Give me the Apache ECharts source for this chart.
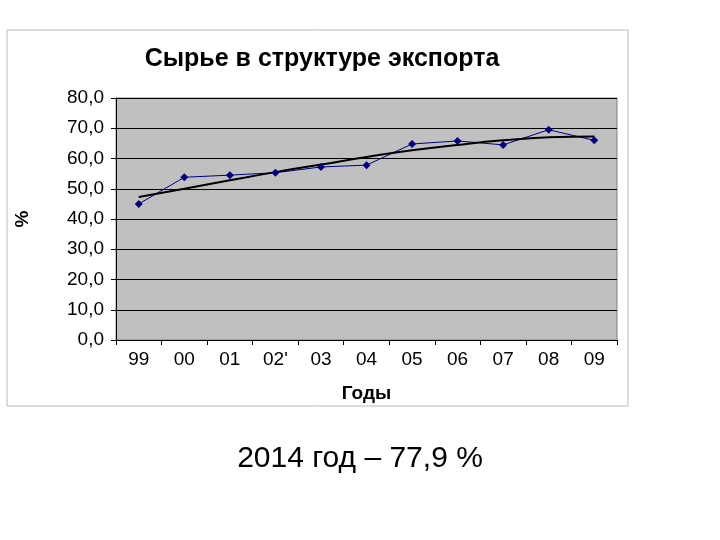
<!DOCTYPE html>
<html><head><meta charset="utf-8">
<script src="https://cdn.jsdelivr.net/npm/echarts@6/dist/echarts.min.js"></script>
<style>body{margin:0;background:#fff}#c{width:720px;height:540px}</style>
</head><body><div id="c"></div>
<script>
const years = ['99', '00', '01', "02'", '03', '04', '05', '06', '07', '08', '09']
const share = [45.0, 53.8, 54.5, 55.3, 57.2, 57.8, 64.8, 65.8, 64.5, 69.5, 66.0]
const trend = [47.3, 50.0, 52.8, 55.5, 58.0, 60.5, 62.7, 64.5, 66.0, 67.0, 67.3]

const chart = echarts.init(document.getElementById('c'))
chart.setOption({
  animation: false,
  graphic: [
    { type: 'rect', shape: { x: 7, y: 30, width: 621, height: 376 },
      style: { fill: '#fff', stroke: '#bbb', lineWidth: 1 }, z: -10 },
    { type: 'text', left: 'center', top: 444,
      style: { text: '2014 год – 77,9 %', font: '30px "Liberation Sans", Arial', fill: '#000' } }
  ],
  title: {
    text: 'Сырье в структуре экспорта', left: 317, top: 42, textAlign: 'center',
    textStyle: { fontFamily: 'Liberation Sans', fontSize: 25, fontWeight: 'bold', color: '#000' }
  },
  grid: { left: 116, top: 98, width: 501, height: 242, backgroundColor: '#C0C0C0', show: true, borderColor: '#808080', borderWidth: 1 },
  xAxis: {
    type: 'category', data: years, boundaryGap: true,
    name: 'Годы', nameLocation: 'middle', nameGap: 44,
    nameTextStyle: { fontFamily: 'Liberation Sans', fontSize: 19, fontWeight: 'bold', color: '#000' },
    axisLine: { lineStyle: { color: '#000' } },
    axisTick: { show: true, inside: false, length: 5, lineStyle: { color: '#000' } },
    axisLabel: { fontFamily: 'Liberation Sans', fontSize: 19, color: '#000', margin: 10 }
  },
  yAxis: {
    type: 'value', min: 0, max: 80, interval: 10,
    name: '%', nameLocation: 'middle', nameGap: 84, nameRotate: 90,
    nameTextStyle: { fontFamily: 'Liberation Sans', fontSize: 19, fontWeight: 'bold', color: '#000' },
    axisLine: { show: true, lineStyle: { color: '#000' } },
    axisTick: { show: true, length: 5, lineStyle: { color: '#000' } },
    axisLabel: { fontFamily: 'Liberation Sans', fontSize: 19, color: '#000', margin: 12,
      formatter: v => v.toFixed(1).replace('.', ',') },
    splitLine: { lineStyle: { color: '#000', width: 1 } }
  },
  series: [
    { type: 'line', data: share, symbol: 'diamond', symbolSize: 8,
      lineStyle: { color: '#000080', width: 1 }, itemStyle: { color: '#000080' } },
    { type: 'line', data: trend, symbol: 'none', smooth: true,
      lineStyle: { color: '#000', width: 2 } }
  ]
})
</script></body></html>
